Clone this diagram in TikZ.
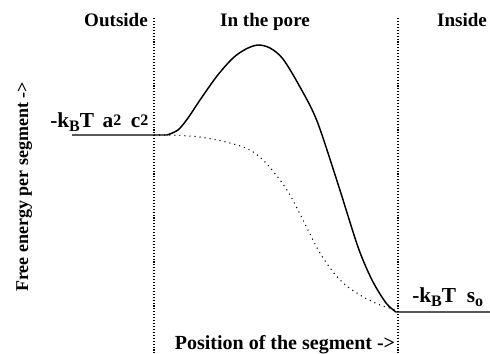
\documentclass[tikz,border=0pt]{standalone}
\usepackage{fontspec}
\setmainfont{Liberation Serif}
\usetikzlibrary{positioning}

\newcommand{\lowtxt}[1]{\raisebox{-3pt}{\fontsize{12}{12}\selectfont #1}}
\newcommand{\hightxt}[1]{\raisebox{2pt}{\fontsize{12}{12}\selectfont #1}}

\begin{document}
\begin{tikzpicture}[
    x=0.75pt, y=0.75pt,
    region/.style={font=\fontsize{14.3}{16}\selectfont\bfseries, inner sep=0pt},
    level/.style={font=\fontsize{16}{18}\selectfont\bfseries, inner sep=0pt},
    axis/.style={font=\fontsize{15}{17}\selectfont\bfseries, inner sep=0pt},
    wall/.style={line width=0.8pt, dash pattern=on 0.8pt off 1.4pt},
    energy/.style={line width=1.1pt},
    direct/.style={line width=0.8pt, dash pattern=on 0.8pt off 3pt}
]
    \useasboundingbox (0,0) rectangle (490,354);

    % pore walls
    \coordinate (wallLtop) at (154,336);
    \coordinate (wallLbot) at (154,0);
    \coordinate (wallRtop) at (398,336);
    \coordinate (wallRbot) at (398,0);
    \draw[wall] (wallLtop) -- (wallLbot);
    \draw[wall] (wallRtop) -- (wallRbot);

    % regions
    \node[region, anchor=base] (outside) at (116,327) {Outside};
    \node[region, anchor=base] (pore) at (265,327) {In the pore};
    \node[region, anchor=base] (inside) at (462,327) {Inside};

    % free energy profiles
    \coordinate (start) at (72,219);
    \coordinate (finish) at (490,42);
    \draw[energy] (start) -- plot[smooth, tension=0.5] coordinates {
        (167,219) (178,224) (188,236) (200,254) (217,278) (233,296)
        (246,305) (258,309) (270,306) (283,295) (300,267) (317,233)
        (338,170) (358,107) (372,74) (386,51) (396,42)}
        -- (finish);
    \draw[direct] (wallLbot |- start) -- plot[smooth, tension=0.55] coordinates {
        (170,219) (200,217) (230,211) (250,204) (265,192) (280,174)
        (290,159) (300,140) (320,101) (340,74) (360,59) (380,49)
        (393,45) (398,43)};

    % levels
    \node[level, anchor=base west] (outlevel) at (50,226)
        {-k\lowtxt{B}T\hspace{0.4em}a\hightxt{2}\hspace{0.45em}c\hightxt{2}};
    \node[level, anchor=base west] (inlevel) at (412,51)
        {-k\lowtxt{B}T\hspace{0.5em}s\lowtxt{o}};

    % axes
    \node[axis, anchor=base] (xlabel) at (285,4) {Position of the segment ->};
    \node[axis, rotate=90, anchor=base, font=\fontsize{13.5}{16}\selectfont\bfseries]
        (ylabel) at (28,167) {Free energy per segment ->};
\end{tikzpicture}
\end{document}
